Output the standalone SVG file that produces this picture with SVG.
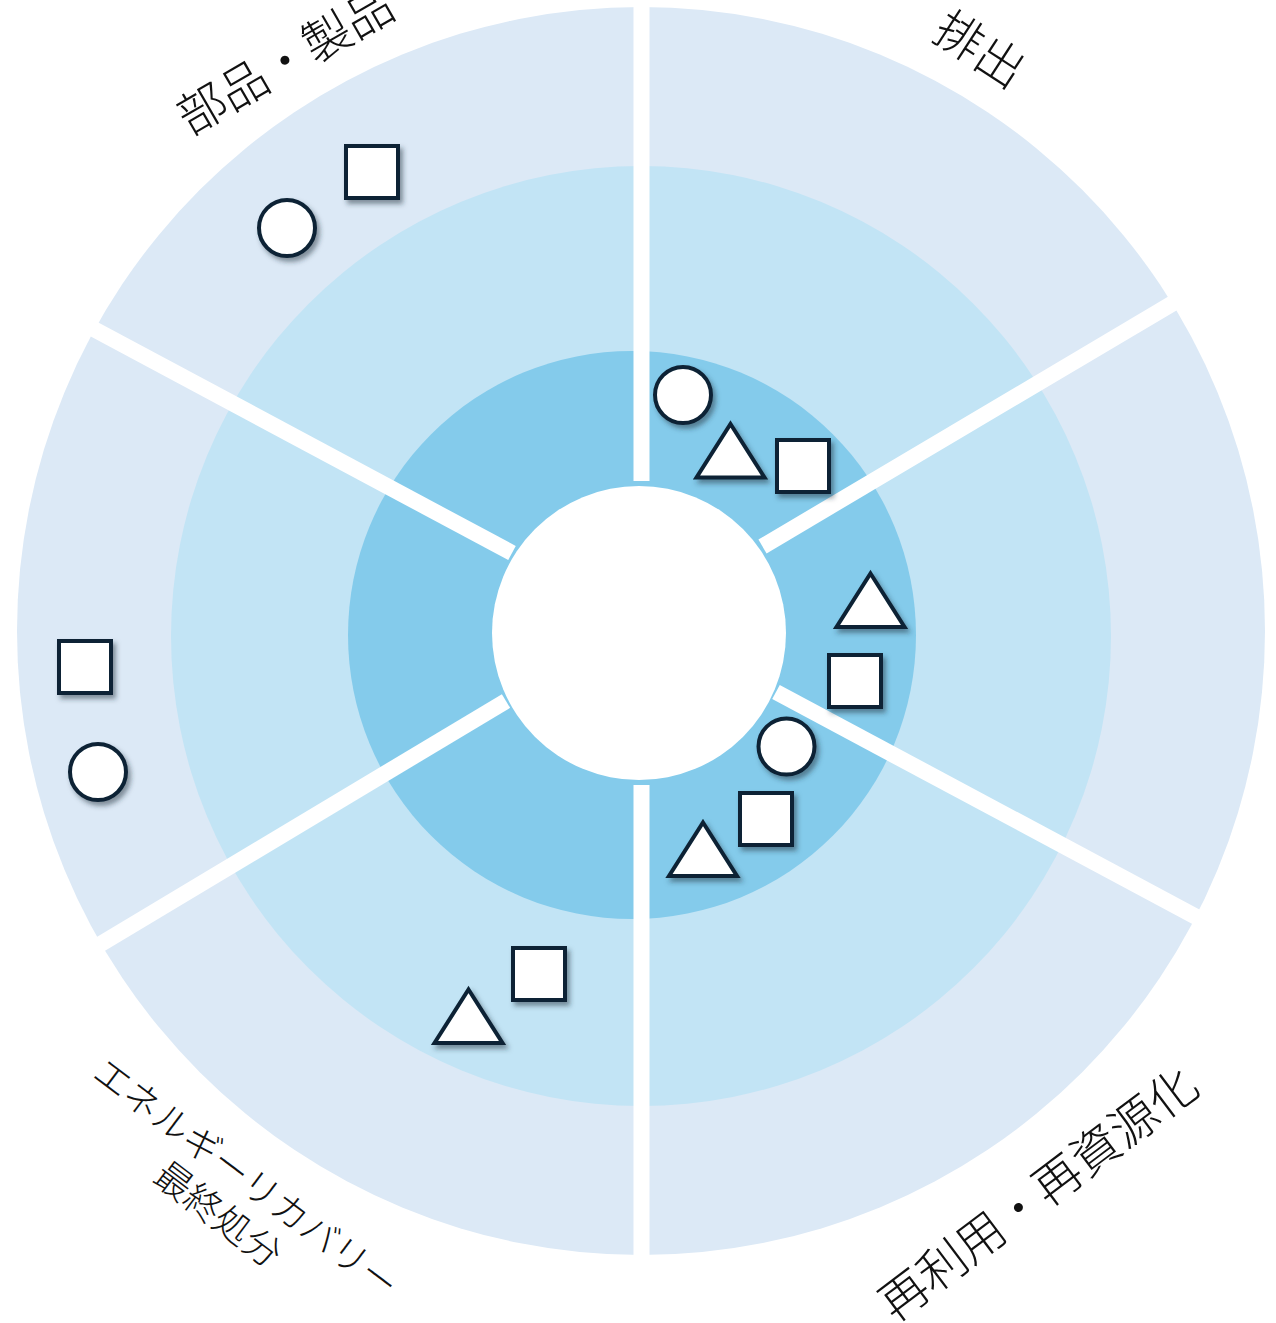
<svg xmlns="http://www.w3.org/2000/svg" width="1276" height="1323" viewBox="0 0 1276 1323">
<defs>
<filter id="sh" x="-30%" y="-30%" width="160%" height="160%">
<feDropShadow dx="3" dy="4" stdDeviation="2.8" flood-color="#1c2f3d" flood-opacity="0.5"/>
</filter>
<style>
.shape{fill:#fff;stroke:#0B2436;stroke-width:4;filter:url(#sh)}
.sep{stroke:#fff;stroke-width:16;stroke-linecap:butt;fill:none}
.lbl{font-family:"Noto Sans CJK JP","Noto Sans CJK SC",sans-serif;font-weight:300;fill:#111;text-anchor:middle}
.big{font-size:48px}
.small{font-size:37px}
</style>
</defs>
<rect width="1276" height="1323" fill="#fff"/>
<g id="rings">
<circle cx="641" cy="631" r="624" fill="#DCE9F6"/>
<circle cx="641" cy="636" r="470" fill="#C2E4F5"/>
<circle cx="632" cy="635" r="284" fill="#84CBEB"/>
</g>
<g id="connectors">
<line class="sep" x1="641.5" y1="0" x2="641.5" y2="481"/>
<line class="sep" x1="641.5" y1="785" x2="641.5" y2="1300"/>
<line class="sep" x1="762.5" y1="546.5" x2="1180" y2="299"/>
<line class="sep" x1="776" y1="692" x2="1205" y2="921.6"/>
<line class="sep" x1="506" y1="701" x2="93" y2="948.6"/>
<line class="sep" x1="512" y1="553" x2="88" y2="326"/>
</g>
<circle id="hub" cx="639" cy="633" r="147" fill="#fff"/>
<g id="node-parts">
<rect class="shape" x="346" y="146" width="52" height="52"/>
<circle class="shape" cx="287" cy="228" r="28"/>
</g>
<g id="node-discharge">
<circle class="shape" cx="683" cy="395" r="28"/>
<path class="shape" d="M730.5 424 L764.5 477.5 L696.5 477.5 Z"/>
<rect class="shape" x="777" y="440" width="52" height="52"/>
</g>
<g id="node-right">
<path class="shape" d="M870.5 573.5 L904.5 627 L836.5 627 Z"/>
<rect class="shape" x="829" y="655" width="52" height="52"/>
<circle class="shape" cx="786.5" cy="746.5" r="28"/>
</g>
<g id="node-reuse">
<rect class="shape" x="740" y="793" width="52" height="52"/>
<path class="shape" d="M703 822.5 L737 876 L669 876 Z"/>
</g>
<g id="node-recovery">
<rect class="shape" x="513" y="948" width="52" height="52"/>
<path class="shape" d="M468.5 989.5 L502.5 1043 L434.5 1043 Z"/>
</g>
<g id="node-left">
<rect class="shape" x="59" y="641" width="52" height="52"/>
<circle class="shape" cx="98" cy="772" r="28"/>
</g>
<g id="labels">
<text class="lbl big" x="294" y="76" transform="rotate(-30 294 76)">部品・製品</text>
<text class="lbl big" x="970.5" y="64" transform="rotate(33 970.5 64)">排出</text>
<text class="lbl big" x="1048.5" y="1207.5" transform="rotate(-37 1048.5 1207.5)">再利用・再資源化</text>
<text class="lbl small" x="238" y="1188.7" transform="rotate(37 238 1188.7)">エネルギーリカバリー</text>
<text class="lbl small" x="210" y="1225" transform="rotate(37 210 1225)">最終処分</text>
</g>
</svg>
